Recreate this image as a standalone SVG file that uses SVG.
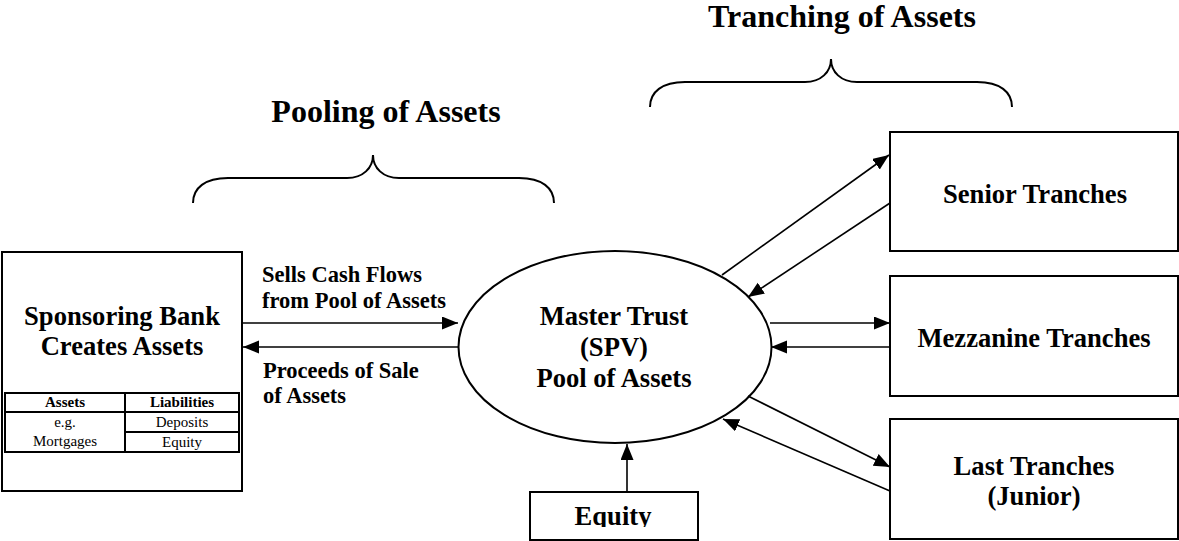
<svg xmlns="http://www.w3.org/2000/svg" width="1179" height="541" viewBox="0 0 1179 541">
  <style>
    text { font-family: "Liberation Serif", "Times New Roman", serif; fill: #000; }
    .title { font-size: 32px; font-weight: bold; text-anchor: middle; }
    .node { font-size: 26.6px; font-weight: bold; text-anchor: middle; }
    .flow { font-size: 22.5px; font-weight: bold; }
    .cell { font-size: 15px; text-anchor: middle; }
    .cellh { font-size: 15px; font-weight: bold; text-anchor: middle; }
    .box { fill: #fff; stroke: #000; stroke-width: 2; }
    .grid { fill: none; stroke: #000; stroke-width: 2; }
    .brace { fill: none; stroke: #000; stroke-width: 2; }
    .conn { fill: none; stroke: #000; stroke-width: 1.6; marker-end: url(#head); }
  </style>
  <defs>
    <marker id="head" markerUnits="userSpaceOnUse" markerWidth="17" markerHeight="14" refX="16" refY="6.5" orient="auto">
      <path d="M0,0 L16,6.5 L0,13 Z" fill="#000"/>
    </marker>
    <clipPath id="equityClip">
      <rect x="530" y="492" width="168" height="35"/>
    </clipPath>
  </defs>

  <rect width="1179" height="541" fill="#fff"/>

  <!-- section headings with braces -->
  <g id="pooling">
    <text class="title" x="386" y="122">Pooling of Assets</text>
    <path class="brace" d="M193,203 C193,188 205,178 228,178 L347,178 C363,178 373,168 373,155 C373,168 383,178 399,178 L519,178 C542,178 554,188 554,203"/>
  </g>
  <g id="tranching">
    <text class="title" x="842" y="27">Tranching of Assets</text>
    <path class="brace" d="M650,107 C650,92 662,82 685,82 L805,82 C821,82 831,72 831,59 C831,72 841,82 857,82 L977,82 C1000,82 1012,92 1012,107"/>
  </g>

  <!-- sponsoring bank with its balance sheet -->
  <g id="bank">
    <rect class="box" x="2" y="252" width="240" height="239"/>
    <text class="node" x="122" y="325">Sponsoring Bank</text>
    <text class="node" x="122" y="355">Creates Assets</text>
    <rect class="grid" x="5" y="393" width="234" height="59"/>
    <line class="grid" x1="125" y1="393" x2="125" y2="452"/>
    <line class="grid" x1="5" y1="412" x2="239" y2="412"/>
    <line class="grid" x1="125" y1="432" x2="239" y2="432"/>
    <text class="cellh" x="65" y="407">Assets</text>
    <text class="cellh" x="182" y="407">Liabilities</text>
    <text class="cell" x="65" y="427">e.g.</text>
    <text class="cell" x="65" y="446">Mortgages</text>
    <text class="cell" x="182" y="427">Deposits</text>
    <text class="cell" x="182" y="447">Equity</text>
  </g>

  <!-- master trust -->
  <g id="trust">
    <ellipse cx="615" cy="347" rx="156.5" ry="96" fill="#fff" stroke="#000" stroke-width="2"/>
    <text class="node" x="614" y="325">Master Trust</text>
    <text class="node" x="614" y="356">(SPV)</text>
    <text class="node" x="614" y="387">Pool of Assets</text>
  </g>

  <!-- equity contribution -->
  <g id="equity">
    <rect class="box" x="530" y="492" width="168" height="48"/>
    <text class="node" x="613" y="525" clip-path="url(#equityClip)">Equity</text>
  </g>

  <!-- tranches -->
  <g id="senior">
    <rect class="box" x="890" y="132" width="288" height="119"/>
    <text class="node" x="1035" y="203">Senior Tranches</text>
  </g>
  <g id="mezzanine">
    <rect class="box" x="890" y="276" width="288" height="120"/>
    <text class="node" x="1034" y="347">Mezzanine Tranches</text>
  </g>
  <g id="junior">
    <rect class="box" x="890" y="419" width="288" height="120"/>
    <text class="node" x="1034" y="475">Last Tranches</text>
    <text class="node" x="1034" y="505">(Junior)</text>
  </g>

  <!-- flow labels -->
  <g id="labels">
    <text class="flow" x="262" y="282">Sells Cash Flows</text>
    <text class="flow" x="262" y="308">from Pool of Assets</text>
    <text class="flow" x="263" y="378">Proceeds of Sale</text>
    <text class="flow" x="263" y="403">of Assets</text>
  </g>

  <!-- connectors -->
  <g id="connectors">
    <line class="conn" x1="242" y1="323" x2="458" y2="323"/>
    <line class="conn" x1="458" y1="347" x2="243" y2="347"/>
    <line class="conn" x1="627" y1="492" x2="627" y2="444"/>
    <line class="conn" x1="722" y1="275" x2="889" y2="155"/>
    <line class="conn" x1="890" y1="203" x2="748" y2="297"/>
    <line class="conn" x1="770" y1="323" x2="890" y2="323"/>
    <line class="conn" x1="890" y1="347" x2="771" y2="347"/>
    <line class="conn" x1="748" y1="396" x2="890" y2="467"/>
    <line class="conn" x1="890" y1="491" x2="723" y2="419"/>
  </g>
</svg>
